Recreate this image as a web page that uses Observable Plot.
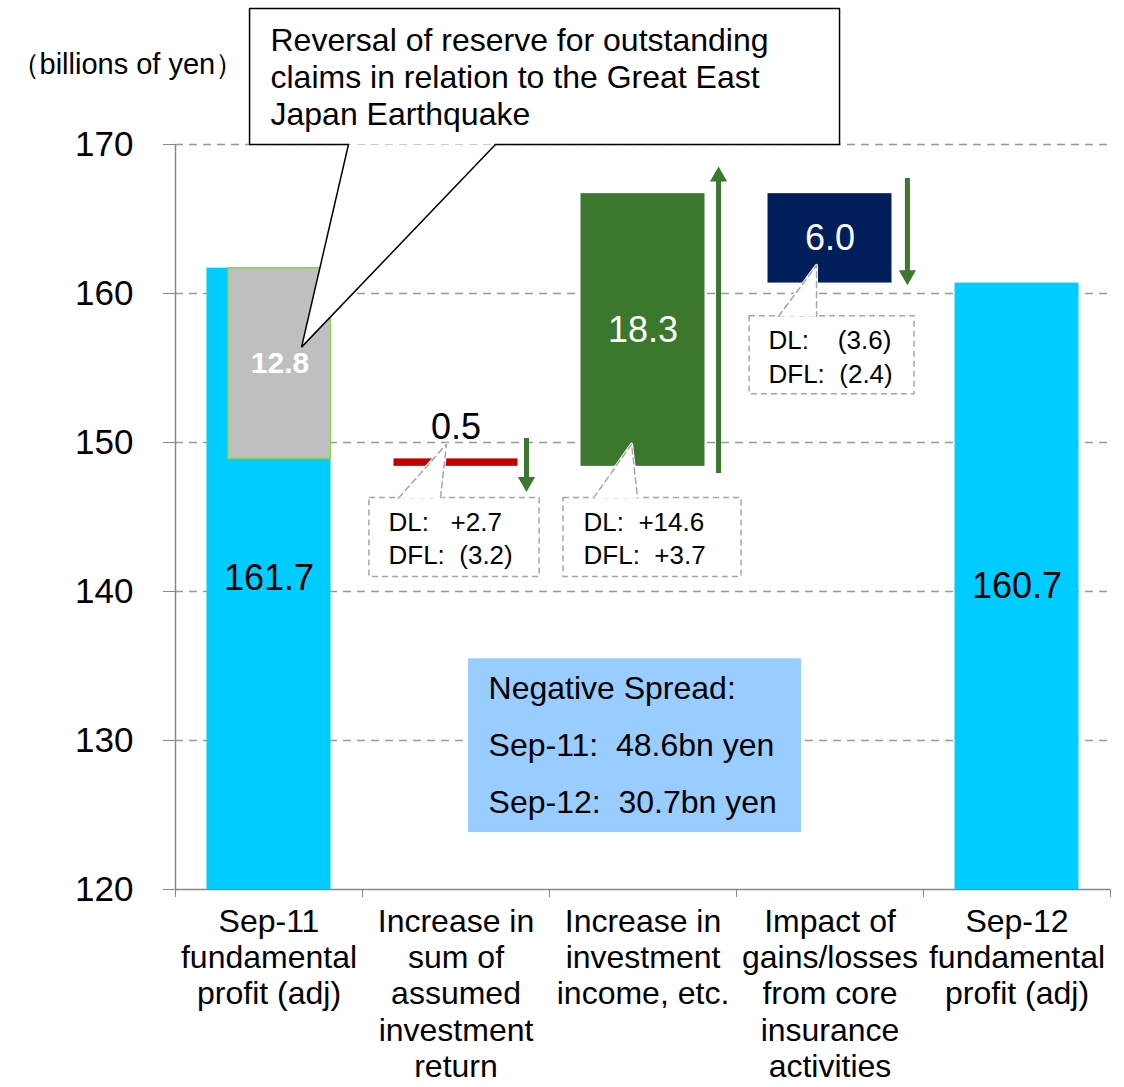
<!DOCTYPE html>
<html><head><meta charset="utf-8">
<script src="https://cdn.jsdelivr.net/npm/d3@7"></script>
<script src="https://cdn.jsdelivr.net/npm/@observablehq/plot@0.6"></script>
<style>
html,body{margin:0;padding:0;background:#fff;}
#chart svg text{white-space:pre;}
</style></head><body><div id="chart"></div>
<script>
// ---- data ----
const categories = [
  "Sep-11\nfundamental\nprofit (adj)",
  "Increase in\nsum of\nassumed\ninvestment\nreturn",
  "Increase in\ninvestment\nincome, etc.",
  "Impact of\ngains/losses\nfrom core\ninsurance\nactivities",
  "Sep-12\nfundamental\nprofit (adj)"
];
const startValue = 161.7;        // Sep-11 fundamental profit (adj)
const reversalValue = 12.8;      // reversal of reserve (inside Sep-11 bar)
const changeValues = [-0.5, 18.3, -6.0]; // categories 1..3
const endValue = 160.7;          // Sep-12 fundamental profit (adj)
const yTicks = [120, 130, 140, 150, 160, 170];
const gridValues = [130, 140, 150, 160, 170];
const dlLabels = ["DL:   +2.7\nDFL:  (3.2)", "DL:  +14.6\nDFL:  +3.7", "DL:    (3.6)\nDFL:  (2.4)"];
const spreadLabel = "Negative Spread:\nSep-11:  48.6bn yen\nSep-12:  30.7bn yen";
const calloutLabel = "Reversal of reserve for outstanding\nclaims in relation to the Great East\nJapan Earthquake";
const unitLabel = "（billions of yen）";

// ---- styles ----
const FONT = "'Liberation Sans', Arial, sans-serif";
const totalColor = "#00CCFF";
const reversalColor = "#BFBFBF";
const changeColors = ["#C00000", "#3B772C", "#001E5A"];
const arrowColor = "#3B772C";
const spreadColor = "#99CCFF";
const fmt = d3.format(".1f");

// ---- derived bars ----
const totals = [
  {i: 0, y1: 120, y2: startValue},
  {i: categories.length - 1, y1: 120, y2: endValue}
];
const reversalBar = [{i: 0, y1: startValue - reversalValue, y2: startValue, v: reversalValue}];
let level = startValue - reversalValue;
const steps = changeValues.map((c, k) => {
  const s = {i: k + 1, y1: Math.min(level, level + c), y2: Math.max(level, level + c), v: c, fill: changeColors[k]};
  level += c;
  return s;
});

// ---- annotation layout (chart units: x = category slot, y = billions of yen) ----
const callout = {x1: 0.396, x2: 3.551, y1: 170, y2: 179.12, tx: 0.508, ty: 178.05};
const calloutOutline = [[0.925, 170], [0.396, 170], [0.396, 179.12], [3.551, 179.12], [3.551, 170], [1.711, 170]];
const calloutWedge = [[0.925, 170], [0.674, 156.4], [1.711, 170]];
const dlBoxes = [
  {x1: 1.037, x2: 1.947, y1: 140.98, y2: 146.27, tx: 1.139, ty: 145.7, wedge: [[1.193, 146.27], [1.449, 149.89], [1.417, 146.27]]},
  {x1: 2.075, x2: 3.027, y1: 140.98, y2: 146.27, tx: 2.182, ty: 145.7, wedge: [[2.235, 146.27], [2.439, 149.89], [2.471, 146.27]]},
  {x1: 3.070, x2: 3.952, y1: 153.24, y2: 158.47, tx: 3.171, ty: 157.9, wedge: [[3.225, 158.47], [3.428, 161.89], [3.428, 158.47]]}
];
const arrows = [
  {x: 1.877, from: 150.27, to: 147.35},
  {x: 2.904, from: 147.92, to: 167.85},
  {x: 3.914, from: 167.72, to: 161.22}
];
const spreadBox = {x1: 1.567, x2: 3.348, y1: 123.82, y2: 135.48, tx: 1.674, ty: 135.5};

const wedgeMarks = [];
dlBoxes.forEach((b) => {
  wedgeMarks.push(Plot.line(b.wedge, {fill: "white", stroke: "white", strokeWidth: 3}));
  wedgeMarks.push(Plot.line(b.wedge, {stroke: "#A6A6A6", strokeWidth: 1.5, strokeDasharray: "6,4"}));
});

const plot = Plot.plot({
  width: 1124,
  height: 1087,
  marginTop: 144,
  marginBottom: 198,
  marginLeft: 175,
  marginRight: 14,
  style: {fontFamily: FONT, background: "white", overflow: "visible", color: "black"},
  x: {domain: [0, categories.length]},
  y: {domain: [120, 170]},
  marks: [
    Plot.ruleY(gridValues, {stroke: "#999", strokeDasharray: "8,6", strokeWidth: 1.3}),
    Plot.axisY({ticks: yTicks, tickSize: 12, tickPadding: 30, fontSize: 35, stroke: "#888", label: null, tickFormat: d3.format("d")}),
    Plot.axisX({ticks: d3.range(categories.length + 1), tickSize: 8, tickFormat: () => "", stroke: "#888", label: null}),
    Plot.ruleX([0], {y1: 120, y2: 170, stroke: "#888", strokeWidth: 1.5}),
    Plot.ruleY([120], {stroke: "#888", strokeWidth: 1.5}),
    // bars
    Plot.rect(totals, {x1: d => d.i, x2: d => d.i + 1, y1: "y1", y2: "y2", fill: totalColor, insetLeft: 31.5, insetRight: 31.5}),
    Plot.rect(reversalBar, {x1: d => d.i, x2: d => d.i + 1, y1: "y1", y2: "y2", fill: reversalColor, stroke: "#92D050", strokeWidth: 1.5, insetLeft: 53, insetRight: 31.5}),
    Plot.rect(steps, {x1: d => d.i, x2: d => d.i + 1, y1: "y1", y2: "y2", fill: d => d.fill, insetLeft: 31.5, insetRight: 31.5}),
    // value labels
    Plot.text(totals, {x: d => d.i + 0.5, y: d => (d.y1 + d.y2) / 2, text: d => fmt(d.y2), fontSize: 36, fill: "black"}),
    Plot.text(reversalBar, {x: d => d.i + 0.5, y: d => (d.y1 + d.y2) / 2, dx: 11, text: d => fmt(d.v), fontSize: 30, fontWeight: "bold", fill: "white"}),
    Plot.text(steps.filter(s => s.y2 - s.y1 < 2), {x: d => d.i + 0.5, y: "y2", dy: -31, text: d => fmt(Math.abs(d.v)), fontSize: 36, fill: "black"}),
    Plot.text(steps.filter(s => s.y2 - s.y1 >= 2), {x: d => d.i + 0.5, y: d => (d.y1 + d.y2) / 2, text: d => fmt(Math.abs(d.v)), fontSize: 36, fill: "white"}),
    // arrows
    Plot.ruleX(arrows, {x: "x", y1: "from", y2: "to", stroke: arrowColor, strokeWidth: 5}),
    Plot.dot(arrows, {x: "x", y: "to", symbol: "triangle", r: 6.4, fill: arrowColor, stroke: null,
      rotate: d => d.to < d.from ? 180 : 0}),
    // DL boxes
    Plot.rect(dlBoxes, {x1: "x1", x2: "x2", y1: "y1", y2: "y2", fill: "white", stroke: "#A6A6A6", strokeWidth: 1.5, strokeDasharray: "6,4"}),
    ...wedgeMarks,
    Plot.text(dlBoxes, {x: "tx", y: "ty", text: (d, i) => dlLabels[i], textAnchor: "start", lineAnchor: "top", fontSize: 26, lineHeight: 1.3, fill: "black"}),
    // negative spread box
    Plot.rect([spreadBox], {x1: "x1", x2: "x2", y1: "y1", y2: "y2", fill: spreadColor}),
    Plot.text([spreadBox], {x: "tx", y: "ty", text: () => spreadLabel, textAnchor: "start", lineAnchor: "top", fontSize: 32, lineHeight: 1.78, fill: "black"}),
    // big callout
    Plot.rect([callout], {x1: "x1", x2: "x2", y1: "y1", y2: "y2", fill: "white"}),
    Plot.line(calloutWedge, {fill: "white", stroke: null}),
    Plot.line(calloutOutline, {stroke: "black", strokeWidth: 1.5, strokeLinejoin: "miter"}),
    Plot.line(calloutWedge, {stroke: "black", strokeWidth: 1.5, strokeLinejoin: "miter"}),
    Plot.text([callout], {x: "tx", y: "ty", text: () => calloutLabel, textAnchor: "start", lineAnchor: "top", fontSize: 32, lineHeight: 1.156, fill: "black"}),
    // category labels
    Plot.text(categories, {x: (d, i) => i + 0.5, frameAnchor: "bottom", text: d => d, lineAnchor: "top", dy: 17, fontSize: 32, lineHeight: 1.13, fill: "black"}),
    // unit label
    Plot.text([unitLabel], {frameAnchor: "top-left", dx: -165, dy: -91, text: d => d, textAnchor: "start", fontSize: 29, fill: "black"})
  ]
});
document.getElementById("chart").appendChild(plot);
</script>
</body></html>
